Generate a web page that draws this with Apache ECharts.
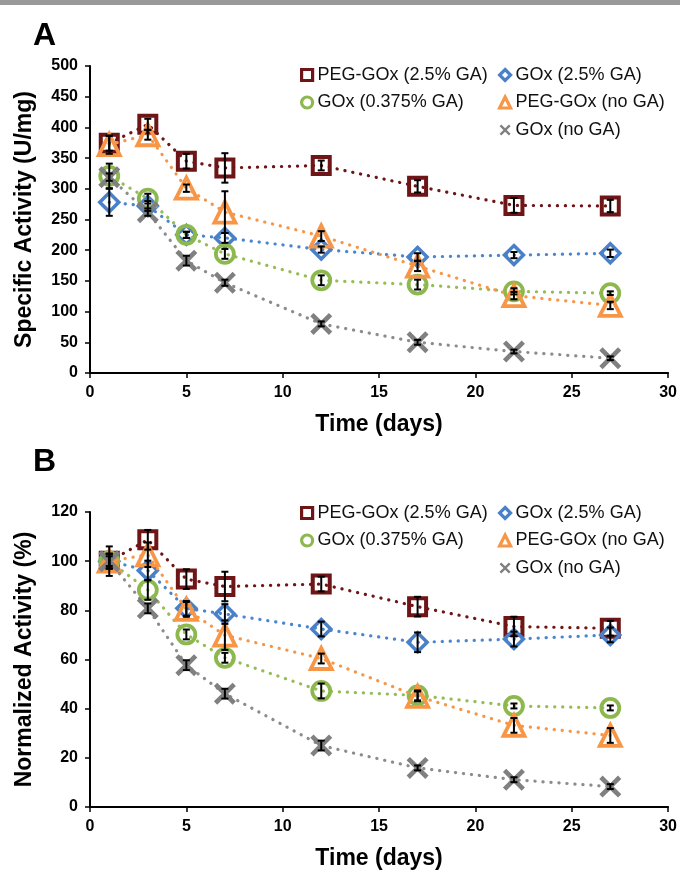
<!DOCTYPE html>
<html>
<head>
<meta charset="utf-8">
<script src="https://cdn.jsdelivr.net/npm/echarts@6/dist/echarts.min.js"></script>
<style>
  html, body { margin: 0; padding: 0; background: #ffffff; }
  #chart { width: 680px; height: 872px; }
</style>
</head>
<body>
<div id="chart"></div>
<script>
// Sampling days
const days = [1, 3, 5, 7, 12, 17, 22, 27];

const seriesNames = ['PEG-GOx (2.5% GA)', 'GOx (2.5% GA)', 'GOx (0.375% GA)', 'PEG-GOx (no GA)', 'GOx (no GA)'];

// Panel A: specific activity (U/mg)
const specPegGa25   = [374, 405, 345, 334, 338, 304, 273, 272];
const specGoxGa25   = [278, 272, 225, 220, 201, 189, 192, 195];
const specGoxGa0375 = [321, 284, 225, 194, 151, 144, 133, 130];
const specPegNoGa   = [372, 388, 301, 262, 223, 174, 126, 110];
const specGoxNoGa   = [319, 262, 183, 147, 80, 50, 35, 24];

// Panel A: standard deviations
const specErrPegGa25   = [12, 9, 12, 24, 8, 10, 12, 10];
const specErrGoxGa25   = [22, 8, 5, 8, 5, 6, 5, 6];
const specErrGoxGa0375 = [20, 8, 5, 8, 8, 8, 5, 3];
const specErrPegNoGa   = [15, 8, 6, 34, 8, 8, 6, 6];
const specErrGoxNoGa   = [6, 6, 8, 5, 4, 4, 3, 3];

// Panel B: activity normalized to day 1 (%)
const normPegGa25   = [100, 108.7, 92.7, 89.7, 90.7, 81.5, 73.4, 72.7];
const normGoxGa25   = [100, 96.2, 80.8, 78.5, 72.4, 67.0, 68.3, 70.0];
const normGoxGa0375 = [100, 88.3, 70.2, 60.7, 47.2, 45.4, 41.1, 40.3];
const normPegNoGa   = [100, 102.6, 80.4, 69.9, 60.4, 45.0, 33.2, 29.1];
const normGoxNoGa   = [100, 80.8, 57.7, 46.1, 25.0, 15.9, 11.1, 8.3];

// Panel B: standard deviations
const normErrPegGa25   = [6, 4, 4, 6, 3, 4, 4, 3];
const normErrGoxGa25   = [3, 4, 3, 4, 3, 4, 3, 3];
const normErrGoxGa0375 = [3, 4, 2, 2, 3, 2, 1, 1];
const normErrPegNoGa   = [3, 5, 3, 6, 2, 2, 3, 3];
const normErrGoxNoGa   = [2, 2, 2, 2, 2, 1, 1, 1];

// Axis ticks
const timeTicks = { min: 0, max: 30, interval: 5 };
const specTicks = { min: 0, max: 500, interval: 50 };
const normTicks = { min: 0, max: 120, interval: 20 };

const FONT = "'Liberation Sans', Arial, sans-serif";
const colors = ['#6E1517', '#4A80C8', '#8DB84E', '#F79646', '#808080'];
const lineColors = ['#6E1517', '#4A86CF', '#95BD55', '#F79646', '#8C8C8C'];
const xPath = 'path://M0,3L3,0L10,7L17,0L20,3L13,10L20,17L17,20L10,13L3,20L0,17L7,10Z';

const markerDefs = [
  { symbol: 'rect',     size: 17, border: 4 },
  { symbol: 'diamond',  size: 19, border: 3.5 },
  { symbol: 'circle',   size: 18, border: 3.8 },
  { symbol: 'triangle', size: 21, border: 3.8 },
  { symbol: xPath,      size: 22, border: 0 }
];

const panels = [
  { vals: [specPegGa25, specGoxGa25, specGoxGa0375, specPegNoGa, specGoxNoGa],
    errs: [specErrPegGa25, specErrGoxGa25, specErrGoxGa0375, specErrPegNoGa, specErrGoxNoGa] },
  { vals: [normPegGa25, normGoxGa25, normGoxGa0375, normPegNoGa, normGoxNoGa],
    errs: [normErrPegGa25, normErrGoxGa25, normErrGoxGa0375, normErrPegNoGa, normErrGoxNoGa] }
];

// Black I-shaped error bar centred on each point
function errorBarItem(params, api) {
  const x = api.value(0);
  const top = api.coord([x, api.value(2)]);
  const bot = api.coord([x, api.value(1)]);
  const hw = 3.5;
  const st = { stroke: '#000', lineWidth: 2 };
  return {
    type: 'group',
    children: [
      { type: 'line', shape: { x1: top[0], y1: top[1], x2: bot[0], y2: bot[1] }, style: st },
      { type: 'line', shape: { x1: top[0] - hw, y1: top[1], x2: top[0] + hw, y2: top[1] }, style: st },
      { type: 'line', shape: { x1: bot[0] - hw, y1: bot[1], x2: bot[0] + hw, y2: bot[1] }, style: st }
    ]
  };
}

const series = [];
panels.forEach((panel, p) => {
  panel.vals.forEach((vals, s) => {
    const m = markerDefs[s];
    const isX = s === 4;
    series.push({
      name: seriesNames[s],
      type: 'line',
      xAxisIndex: p,
      yAxisIndex: p,
      data: days.map((d, i) => [d, vals[i]]),
      symbol: m.symbol,
      symbolSize: m.size,
      showSymbol: true,
      clip: false,
      z: 2 + s,
      lineStyle: { color: lineColors[s], width: 3.2, type: [0.2, 7.8], cap: 'round' },
      itemStyle: isX
        ? { color: colors[s], borderWidth: 0 }
        : { color: 'rgba(255,255,255,0)', borderColor: colors[s], borderWidth: m.border },
      emphasis: { disabled: true }
    });
  });
  panel.vals.forEach((vals, s) => {
    const errs = panel.errs[s];
    series.push({
      type: 'custom',
      xAxisIndex: p,
      yAxisIndex: p,
      z: 20,
      renderItem: errorBarItem,
      encode: { x: 0, y: [1, 2] },
      data: days.map((d, i) => [d, vals[i] - errs[i], vals[i] + errs[i]]),
      silent: true
    });
  });
});

function legendItem(s) {
  const item = { name: seriesNames[s], icon: markerDefs[s].symbol };
  item.itemStyle = s === 4
    ? { color: colors[s], borderWidth: 0 }
    : { color: '#ffffff', borderColor: colors[s], borderWidth: 3.2 };
  return item;
}

function legends(top) {
  const common = {
    orient: 'vertical', selectedMode: false, itemWidth: 11, itemHeight: 11,
    itemGap: 9.5, padding: 0,
    textStyle: { fontFamily: FONT, fontSize: 18, color: '#111', lineHeight: 18 }
  };
  return [
    Object.assign({ left: 300, top: top, data: [legendItem(0), legendItem(2)] }, common),
    Object.assign({ left: 498, top: top, data: [legendItem(1), legendItem(3), legendItem(4)] }, common)
  ];
}

function xAxisCfg(gridIndex) {
  return {
    type: 'value', gridIndex: gridIndex,
    min: timeTicks.min, max: timeTicks.max, interval: timeTicks.interval,
    name: 'Time (days)', nameLocation: 'middle', nameGap: 40,
    nameTextStyle: { fontFamily: FONT, fontSize: 23, fontWeight: 'bold', color: '#000' },
    axisLine: { show: true, onZero: false, lineStyle: { color: '#000', width: 2 } },
    axisTick: { show: true, inside: false, length: 5, lineStyle: { color: '#000', width: 1.5 } },
    axisLabel: { fontFamily: FONT, fontSize: 16, fontWeight: 'bold', color: '#000', margin: 12 },
    splitLine: { show: false }
  };
}

function yAxisCfg(gridIndex, ticks, name) {
  return {
    type: 'value', gridIndex: gridIndex,
    min: ticks.min, max: ticks.max, interval: ticks.interval,
    name: name, nameLocation: 'middle', nameGap: 54, nameRotate: 90,
    nameTextStyle: { fontFamily: FONT, fontSize: 23, fontWeight: 'bold', color: '#000' },
    axisLine: { show: true, lineStyle: { color: '#000', width: 2 } },
    axisTick: { show: true, inside: false, length: 5, lineStyle: { color: '#000', width: 1.5 } },
    axisLabel: { fontFamily: FONT, fontSize: 16, fontWeight: 'bold', color: '#000', margin: 12 },
    splitLine: { show: false }
  };
}

const chart = echarts.init(document.getElementById('chart'), null, { renderer: 'canvas' });
chart.setOption({
  animation: false,
  backgroundColor: '#ffffff',
  grid: [
    { left: 90, right: 10, top: 66, height: 307 },
    { left: 90, right: 10, top: 512, height: 295 }
  ],
  xAxis: [xAxisCfg(0), xAxisCfg(1)],
  yAxis: [
    yAxisCfg(0, specTicks, 'Specific Activity (U/mg)'),
    yAxisCfg(1, normTicks, 'Normalized Activity (%)')
  ],
  legend: legends(66).concat(legends(504)),
  graphic: [
    { type: 'rect', left: 0, top: 0, shape: { width: 680, height: 5 }, style: { fill: '#999999' } },
    { type: 'text', left: 33, top: 20, style: { text: 'A', fontFamily: FONT, fontSize: 32, fontWeight: 'bold', fill: '#000' } },
    { type: 'text', left: 33, top: 446, style: { text: 'B', fontFamily: FONT, fontSize: 32, fontWeight: 'bold', fill: '#000' } }
  ],
  series: series
});
</script>
</body>
</html>
